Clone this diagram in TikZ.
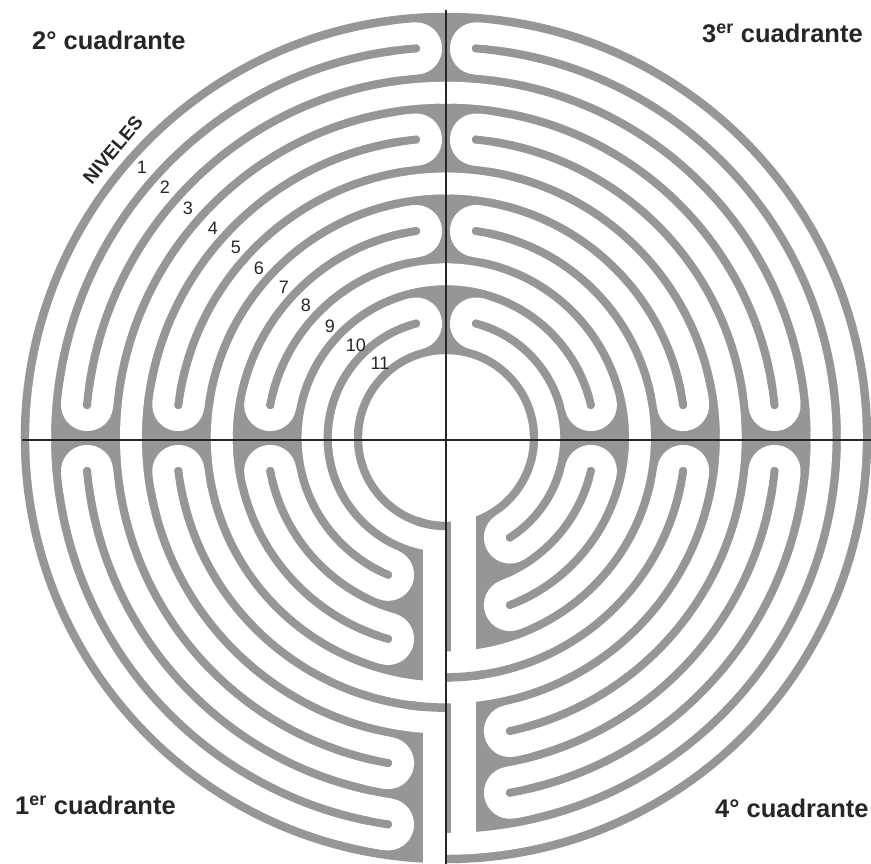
\documentclass[tikz,border=0pt]{standalone}
\usepackage{fontspec}
\setmainfont{Liberation Sans}
\definecolor{wallgray}{RGB}{150,150,150}
\newcommand\LSeg[3]{\draw[wpath] ({#2}:{R(#1)}) arc[start angle={#2}, end angle={#3}, radius={R(#1)}];}
% U-turn around the end of wall #1 at angle #2; #3 = -180 or 180 (direction of the tip)
\newcommand\LTurn[3]{%
  \pgfmathsetmacro\tA{#2}%
  \pgfmathsetmacro\tB{#2-(#3)/60}%
  \pgfmathsetmacro\rO{W(#1)+15.135}%
  \pgfmathsetmacro\rI{W(#1)-15.135}%
  \draw[wpath] (\tB:\rO) arc[start angle=\tB, end angle=\tA, radius=\rO]
    arc[start angle=\tA, delta angle={#3}, radius=15.135]
    arc[start angle=\tA, end angle=\tB, radius=\rI];}
\begin{document}
\begin{tikzpicture}[x=1pt,y=1pt,
  declare function={W(\k)=421-\k*30.27; R(\n)=421-(\n-0.5)*30.27; ua(\k,\d)=asin(\d/(421-\k*30.27));},
  wpath/.style={draw=white, line width=21.8pt},
  wall/.style={draw=wallgray, line width=8.5pt},
  axisline/.style={draw=black!85, line width=1.5pt},
  qtitle/.style={font=\fontsize{25.5}{26}\selectfont\bfseries, text=black!85, anchor=base west, inner sep=0},
  lvlnum/.style={font=\fontsize{18}{18}\selectfont, text=black!85, inner sep=0}]
\useasboundingbox (-446,-426) rectangle (425,438);
\fill[white] (-446,-426) rectangle (425,438);
% base disk
\fill[wallgray] (0,0) circle[radius=425.25];
\fill[white] (0,0) circle[radius=83.8];
% QII
\LSeg{1}{90+ua(1,30)}{181}
\LSeg{2}{90+ua(1,30)}{180-ua(2,33)}
\LSeg{3}{89}{180-ua(2,33)}
\LSeg{4}{90+ua(4,30)}{181}
\LSeg{5}{90+ua(4,30)}{180-ua(5,33)}
\LSeg{6}{89}{180-ua(5,33)}
\LSeg{7}{90+ua(7,30)}{181}
\LSeg{8}{90+ua(7,30)}{180-ua(8,33)}
\LSeg{9}{89}{180-ua(8,33)}
\LSeg{10}{90+ua(10,30)}{181}
\LSeg{11}{90+ua(10,30)}{181}
% QIII
\LSeg{1}{-1}{90-ua(1,30)}
\LSeg{2}{-1}{90-ua(1,30)}
\LSeg{3}{ua(3,33)}{91}
\LSeg{4}{ua(3,33)}{90-ua(4,30)}
\LSeg{5}{-1}{90-ua(4,30)}
\LSeg{6}{ua(6,33)}{91}
\LSeg{7}{ua(6,33)}{90-ua(7,30)}
\LSeg{8}{-1}{90-ua(7,30)}
\LSeg{9}{ua(9,33)}{91}
\LSeg{10}{ua(9,33)}{90-ua(10,30)}
\LSeg{11}{-1}{90-ua(10,30)}
% QIV
\LSeg{1}{270}{361}
\LSeg{2}{270+ua(2,64)}{361}
\LSeg{3}{270+ua(2,64)}{360-ua(3,33)}
\LSeg{4}{270+ua(4,64)}{360-ua(3,33)}
\LSeg{5}{270+ua(4,64)}{361}
\LSeg{6}{270}{360-ua(6,33)}
\LSeg{7}{270}{360-ua(6,33)}
\LSeg{8}{270+ua(8,64)}{361}
\LSeg{9}{270+ua(8,64)}{360-ua(9,33)}
\LSeg{10}{270+ua(10,64)}{360-ua(9,33)}
\LSeg{11}{270+ua(10,64)}{361}
% QI
\LSeg{1}{179}{270-ua(1,58)}
\LSeg{2}{180+ua(2,33)}{270-ua(1,58)}
\LSeg{3}{180+ua(2,33)}{270-ua(3,58)}
\LSeg{4}{179}{270-ua(3,58)}
\LSeg{5}{180+ua(5,33)}{270}
\LSeg{6}{180+ua(5,33)}{270}
\LSeg{7}{179}{270-ua(7,58)}
\LSeg{8}{180+ua(8,33)}{270-ua(7,58)}
\LSeg{9}{180+ua(8,33)}{270-ua(9,58)}
\LSeg{10}{179}{270-ua(9,58)}
\LSeg{11}{179}{270}
% U-turns
\foreach \k in {1,4,7,10}{\LTurn{\k}{90+ua(\k,30)}{-180}\LTurn{\k}{90-ua(\k,30)}{180}}
\foreach \k in {2,5,8}{\LTurn{\k}{180-ua(\k,33)}{180}\LTurn{\k}{180+ua(\k,33)}{-180}}
\foreach \k in {3,6,9}{\LTurn{\k}{ua(\k,33)}{-180}\LTurn{\k}{360-ua(\k,33)}{180}}
\foreach \k in {1,3,7,9}{\LTurn{\k}{270-ua(\k,58)}{180}}
\foreach \k in {2,4,8,10}{\LTurn{\k}{270+ua(\k,64)}{-180}}
% straight corridors on the lower axis
\draw[wpath] (-12,-60) -- (-12,-440);
\draw[wpath, line width=25pt] (18,-60) -- (18,{-R(1)});
% walls crossing the corridors
\draw[wall] (270:88.03) arc[start angle=270, end angle=250, radius=88.03];
\draw[wall] (270:{W(5)}) arc[start angle=270, end angle=262, radius={W(5)}];
\draw[wall] (270:{W(6)}) arc[start angle=270, end angle=279, radius={W(6)}];
% axes
\coordinate (vt) at (0,428);
\coordinate (vb) at (0,-426);
\coordinate (hl) at (-424,-2);
\coordinate (hr) at (425,-2);
\draw[axisline, line width=1.8pt] (vt) -- (vb);
\draw[axisline, line width=1.3pt] (hl) -- (hr);
\draw[black!85, line width=2.8pt] (-10,-2) -- (16,-2);
\draw[black!85, line width=2.8pt] (0,11) -- (0,-14);
% titles
\node[qtitle] (q2) at (-414,388) {2° cuadrante};
\node[qtitle] (q3) at (256,395) {3\textsuperscript{er} cuadrante};
\node[qtitle] (q1) at (-431,-377) {1\textsuperscript{er} cuadrante};
\node[qtitle] (q4) at (269,-380) {4° cuadrante};
\node[font=\fontsize{19}{19}\selectfont\bfseries, text=black!85, rotate=50, inner sep=0] (niv) at (-333,288) {NIVELES};
% level numbers
\node[lvlnum] (n1) at (-304,271) {1};
\node[lvlnum] (n2) at (-281,251) {2};
\node[lvlnum] (n3) at (-258,230) {3};
\node[lvlnum] (n4) at (-233,210) {4};
\node[lvlnum] (n5) at (-210,191) {5};
\node[lvlnum] (n6) at (-187,170) {6};
\node[lvlnum] (n7) at (-162,151) {7};
\node[lvlnum] (n8) at (-140,133) {8};
\node[lvlnum] (n9) at (-116,112) {9};
\node[lvlnum] (n10) at (-90,93) {10};
\node[lvlnum] (n11) at (-66,75) {11};
\end{tikzpicture}
\end{document}
